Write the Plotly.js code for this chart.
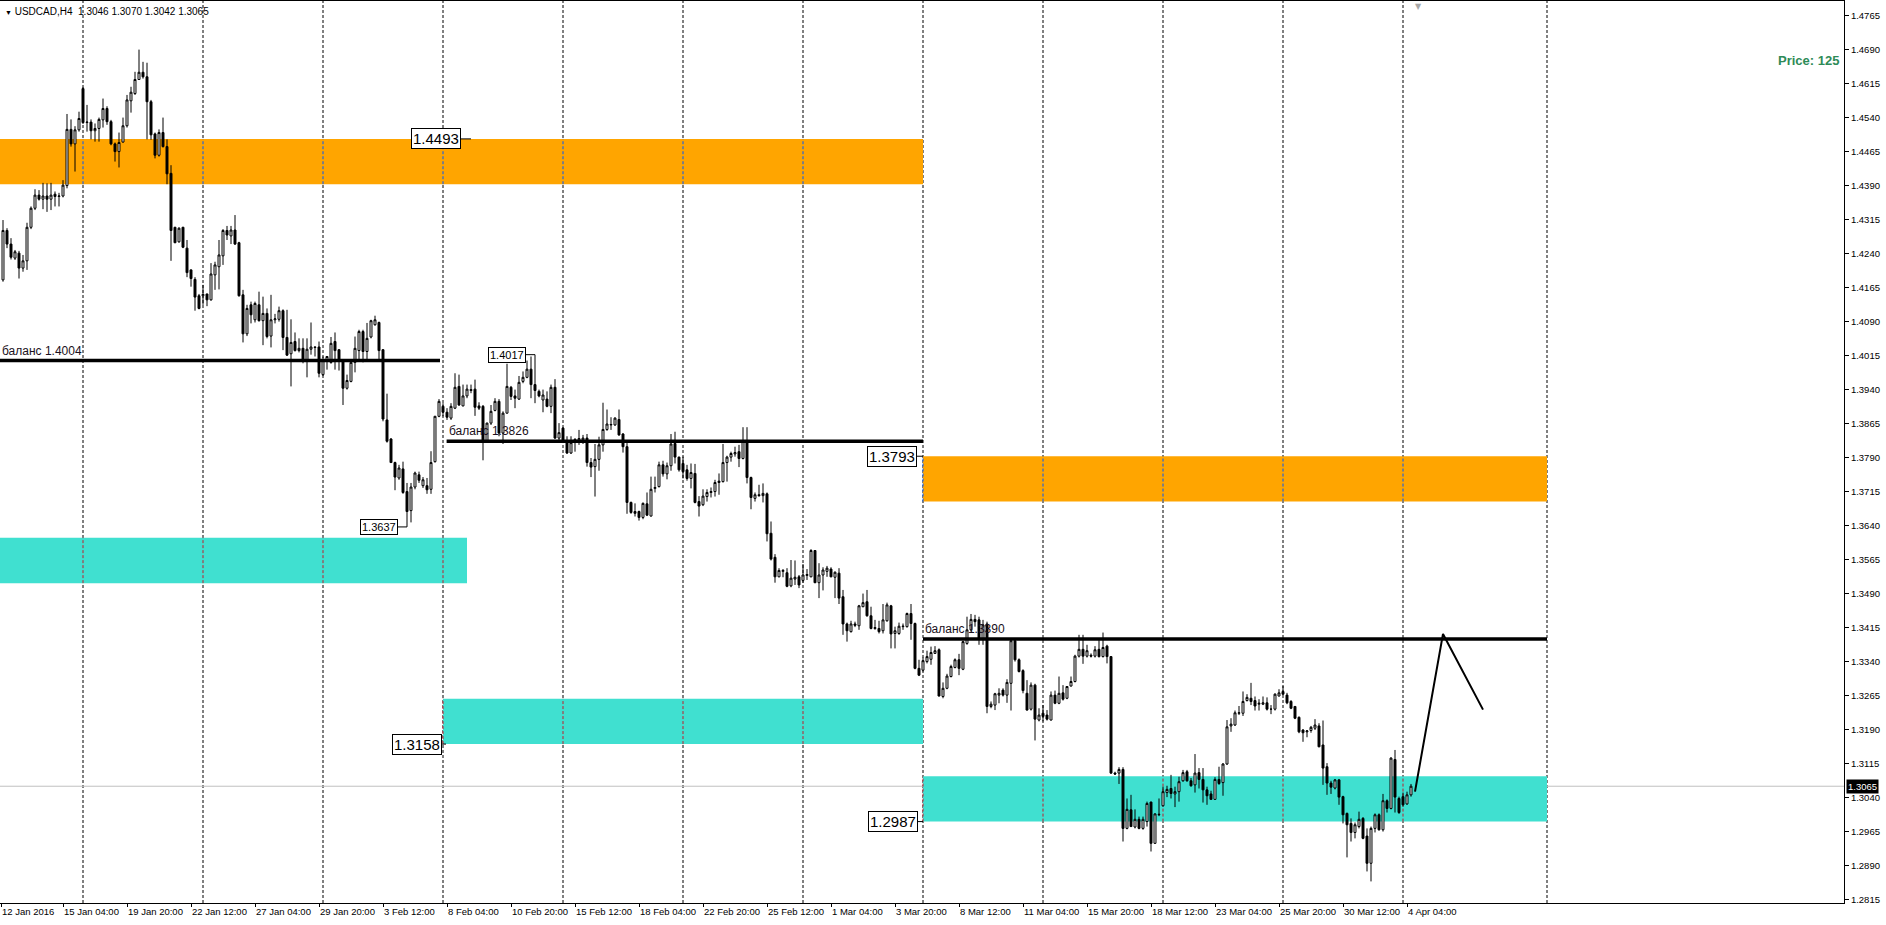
<!DOCTYPE html>
<html><head><meta charset="utf-8">
<script src="https://cdn.plot.ly/plotly-3.0.1.min.js"></script>
<style>html,body{margin:0;padding:0;background:#fff;overflow:hidden}#chart{width:1886px;height:925px}</style>
</head><body><div id="chart"></div>
<script>
// USDCAD H4 candles, one entry per bar (bar 0 = 12 Jan 2016 16:00)
const openP = [
1.4182,1.4291,1.4261,1.4230,1.4241,1.4208,1.4224,1.4298,1.4340,1.4369,
1.4360,1.4367,1.4360,1.4371,1.4366,1.4367,1.4390,1.4514,1.4482,1.4513,
1.4604,1.4529,1.4530,1.4511,1.4516,1.4535,1.4560,1.4531,1.4482,1.4465,
1.4486,1.4522,1.4577,1.4593,1.4624,1.4640,1.4630,1.4575,1.4504,1.4457,
1.4507,1.4476,1.4417,1.4298,1.4266,1.4298,1.4252,1.4204,1.4183,1.4147,
1.4147,1.4151,1.4138,1.4193,1.4211,1.4235,1.4291,1.4279,1.4292,1.4264,
1.4149,1.4063,1.4127,1.4094,1.4127,1.4092,1.4108,1.4058,1.4094,1.4095,
1.4114,1.4055,1.4019,1.4046,1.4026,1.4031,1.4002,1.4029,1.4034,1.4034,
1.3973,1.4002,1.4000,1.4046,1.4028,1.4002,1.3943,1.3958,1.4000,1.4026,
1.4068,1.4024,1.4056,1.4083,1.4088,1.4028,1.3873,1.3831,1.3779,1.3745,
1.3765,1.3715,1.3673,1.3725,1.3752,1.3728,1.3728,1.3720,1.3781,1.3881,
1.3903,1.3890,1.3877,1.3899,1.3947,1.3904,1.3926,1.3940,1.3941,1.3904,
1.3903,1.3826,1.3866,1.3894,1.3914,1.3844,1.3888,1.3945,1.3926,1.3919,
1.3958,1.3967,1.3985,1.3951,1.3936,1.3917,1.3919,1.3903,1.3945,1.3833,
1.3855,1.3826,1.3800,1.3825,1.3829,1.3829,1.3833,1.3779,1.3770,1.3786,
1.3818,1.3852,1.3862,1.3862,1.3874,1.3842,1.3814,1.3691,1.3671,1.3671,
1.3658,1.3688,1.3661,1.3722,1.3726,1.3774,1.3754,1.3772,1.3821,1.3791,
1.3777,1.3763,1.3744,1.3755,1.3693,1.3686,1.3704,1.3713,1.3715,1.3735,
1.3737,1.3779,1.3791,1.3798,1.3803,1.3788,1.3827,1.3746,1.3700,1.3708,
1.3706,1.3710,1.3623,1.3570,1.3527,1.3539,1.3536,1.3507,1.3522,1.3527,
1.3519,1.3530,1.3527,1.3585,1.3514,1.3531,1.3539,1.3544,1.3526,1.3535,
1.3483,1.3423,1.3406,1.3423,1.3419,1.3461,1.3472,1.3441,1.3413,1.3413,
1.3408,1.3430,1.3463,1.3402,1.3402,1.3417,1.3417,1.3446,1.3424,1.3325,
1.3321,1.3340,1.3345,1.3358,1.3366,1.3263,1.3281,1.3307,1.3327,1.3344,
1.3323,1.3380,1.3410,1.3433,1.3432,1.3391,1.3423,1.3241,1.3244,1.3266,
1.3277,1.3266,1.3292,1.3386,1.3344,1.3320,1.3270,1.3235,1.3288,1.3211,
1.3226,1.3222,1.3211,1.3266,1.3248,1.3271,1.3259,1.3286,1.3296,1.3352,
1.3367,1.3352,1.3354,1.3352,1.3367,1.3351,1.3374,1.3351,1.3094,1.3094,
1.3102,1.2972,1.3013,1.2975,1.2992,1.2972,1.2987,1.3030,1.2939,1.3002,
1.3022,1.3051,1.3060,1.3048,1.3053,1.3077,1.3097,1.3077,1.3068,1.3095,
1.3080,1.3057,1.3048,1.3036,1.3080,1.3073,1.3114,1.3198,1.3200,1.3226,
1.3226,1.3254,1.3259,1.3254,1.3246,1.3246,1.3249,1.3235,1.3235,1.3264,
1.3274,1.3266,1.3252,1.3241,1.3217,1.3189,1.3185,1.3188,1.3193,1.3198,
1.3156,1.3108,1.3072,1.3061,1.3079,1.3042,1.3005,1.2983,1.2963,1.2976,
1.2994,1.2955,1.2895,1.2972,1.3002,1.2969,1.3033,1.3016,1.3124,1.3038,
1.3042,1.3026,1.3046];
const highP = [
1.4314,1.4296,1.4274,1.4248,1.4246,1.4237,1.4308,1.4344,1.4382,1.4380,
1.4396,1.4395,1.4396,1.4377,1.4374,1.4402,1.4548,1.4536,1.4521,1.4553,
1.4607,1.4568,1.4536,1.4527,1.4540,1.4582,1.4565,1.4535,1.4485,1.4507,
1.4540,1.4590,1.4608,1.4641,1.4690,1.4663,1.4661,1.4579,1.4507,1.4514,
1.4540,1.4492,1.4435,1.4299,1.4298,1.4299,1.4270,1.4205,1.4188,1.4151,
1.4171,1.4151,1.4219,1.4222,1.4270,1.4294,1.4301,1.4301,1.4325,1.4266,
1.4160,1.4127,1.4134,1.4134,1.4156,1.4145,1.4119,1.4149,1.4107,1.4123,
1.4117,1.4116,1.4095,1.4066,1.4053,1.4053,1.4053,1.4088,1.4035,1.4046,
1.4013,1.4014,1.4056,1.4066,1.4029,1.4007,1.3973,1.4002,1.4057,1.4072,
1.4072,1.4087,1.4094,1.4103,1.4090,1.4029,1.3931,1.3833,1.3781,1.3774,
1.3781,1.3734,1.3734,1.3759,1.3759,1.3747,1.3745,1.3804,1.3882,1.3919,
1.3910,1.3899,1.3910,1.3976,1.3973,1.3951,1.3951,1.3951,1.3962,1.3912,
1.3906,1.3867,1.3906,1.3921,1.3919,1.3892,1.3997,1.3948,1.3940,1.3970,
1.3980,1.4004,1.4013,1.4017,1.3940,1.3940,1.3936,1.3951,1.3963,1.3866,
1.3857,1.3837,1.3837,1.3833,1.3851,1.3840,1.3842,1.3789,1.3820,1.3836,
1.3911,1.3896,1.3879,1.3879,1.3896,1.3844,1.3822,1.3693,1.3689,1.3673,
1.3691,1.3713,1.3748,1.3748,1.3781,1.3783,1.3779,1.3842,1.3847,1.3792,
1.3792,1.3774,1.3777,1.3776,1.3705,1.3720,1.3720,1.3724,1.3741,1.3755,
1.3820,1.3794,1.3803,1.3814,1.3818,1.3857,1.3857,1.3748,1.3713,1.3730,
1.3733,1.3713,1.3649,1.3577,1.3546,1.3544,1.3546,1.3564,1.3563,1.3531,
1.3555,1.3544,1.3588,1.3585,1.3557,1.3548,1.3551,1.3548,1.3539,1.3546,
1.3498,1.3426,1.3430,1.3428,1.3465,1.3490,1.3498,1.3461,1.3432,1.3430,
1.3467,1.3470,1.3465,1.3417,1.3426,1.3424,1.3448,1.3467,1.3426,1.3344,
1.3349,1.3364,1.3373,1.3374,1.3369,1.3294,1.3313,1.3333,1.3347,1.3357,
1.3386,1.3439,1.3445,1.3443,1.3439,1.3432,1.3428,1.3252,1.3271,1.3281,
1.3281,1.3301,1.3389,1.3389,1.3347,1.3323,1.3299,1.3294,1.3291,1.3237,
1.3244,1.3233,1.3274,1.3276,1.3307,1.3288,1.3286,1.3307,1.3355,1.3399,
1.3399,1.3377,1.3358,1.3374,1.3388,1.3404,1.3377,1.3352,1.3097,1.3107,
1.3107,1.3038,1.3046,1.3014,1.2998,1.2998,1.3031,1.3031,1.3005,1.3038,
1.3064,1.3066,1.3090,1.3064,1.3086,1.3101,1.3101,1.3083,1.3136,1.3105,
1.3105,1.3064,1.3055,1.3085,1.3108,1.3116,1.3211,1.3215,1.3232,1.3242,
1.3274,1.3268,1.3293,1.3263,1.3257,1.3263,1.3261,1.3244,1.3270,1.3279,
1.3286,1.3271,1.3255,1.3242,1.3219,1.3191,1.3189,1.3198,1.3213,1.3204,
1.3210,1.3116,1.3077,1.3081,1.3081,1.3044,1.3007,1.2994,1.2985,1.3009,
1.2997,1.2972,1.2976,1.3005,1.3005,1.3048,1.3036,1.3129,1.3145,1.3042,
1.3051,1.3053,1.3070];
const lowP = [
1.4178,1.4252,1.4227,1.4226,1.4185,1.4200,1.4204,1.4294,1.4336,1.4357,
1.4338,1.4332,1.4336,1.4344,1.4344,1.4364,1.4384,1.4476,1.4421,1.4509,
1.4526,1.4509,1.4492,1.4487,1.4487,1.4518,1.4524,1.4479,1.4443,1.4430,
1.4485,1.4518,1.4551,1.4590,1.4623,1.4626,1.4492,1.4491,1.4450,1.4454,
1.4474,1.4393,1.4224,1.4263,1.4264,1.4252,1.4188,1.4167,1.4114,1.4117,
1.4127,1.4124,1.4136,1.4160,1.4161,1.4215,1.4270,1.4261,1.4259,1.4145,
1.4044,1.4058,1.4086,1.4088,1.4090,1.4038,1.4053,1.4033,1.4086,1.4090,
1.4027,1.4014,1.3947,1.4024,1.4022,1.3998,1.3967,1.4017,1.4013,1.3967,
1.3970,1.3984,1.3997,1.3984,1.3982,1.3906,1.3940,1.3956,1.3978,1.4002,
1.4000,1.4002,1.4053,1.4081,1.4007,1.3870,1.3823,1.3778,1.3718,1.3741,
1.3710,1.3637,1.3647,1.3720,1.3734,1.3723,1.3710,1.3710,1.3779,1.3879,
1.3881,1.3873,1.3873,1.3897,1.3904,1.3903,1.3921,1.3932,1.3882,1.3895,
1.3784,1.3823,1.3862,1.3892,1.3837,1.3820,1.3887,1.3917,1.3899,1.3917,
1.3954,1.3965,1.3921,1.3910,1.3923,1.3890,1.3901,1.3888,1.3831,1.3826,
1.3822,1.3798,1.3798,1.3803,1.3818,1.3820,1.3770,1.3747,1.3704,1.3761,
1.3803,1.3849,1.3851,1.3860,1.3838,1.3801,1.3666,1.3666,1.3660,1.3651,
1.3654,1.3661,1.3660,1.3713,1.3724,1.3748,1.3742,1.3761,1.3777,1.3759,
1.3744,1.3739,1.3722,1.3689,1.3660,1.3683,1.3693,1.3702,1.3704,1.3708,
1.3735,1.3737,1.3781,1.3792,1.3769,1.3786,1.3733,1.3676,1.3693,1.3704,
1.3691,1.3605,1.3563,1.3514,1.3526,1.3526,1.3504,1.3504,1.3509,1.3502,
1.3514,1.3520,1.3526,1.3513,1.3480,1.3497,1.3527,1.3526,1.3480,1.3467,
1.3399,1.3384,1.3404,1.3416,1.3410,1.3460,1.3439,1.3411,1.3410,1.3402,
1.3402,1.3428,1.3369,1.3369,1.3399,1.3410,1.3415,1.3388,1.3323,1.3308,
1.3318,1.3336,1.3333,1.3357,1.3263,1.3259,1.3279,1.3305,1.3325,1.3310,
1.3321,1.3377,1.3406,1.3417,1.3377,1.3377,1.3226,1.3237,1.3233,1.3248,
1.3263,1.3249,1.3232,1.3340,1.3316,1.3270,1.3232,1.3232,1.3166,1.3208,
1.3208,1.3210,1.3210,1.3246,1.3246,1.3254,1.3257,1.3285,1.3294,1.3349,
1.3335,1.3349,1.3349,1.3349,1.3349,1.3349,1.3336,1.3092,1.3090,1.3070,
1.2943,1.2970,1.2975,1.2972,1.2970,1.2969,1.2976,1.2921,1.2938,1.2999,
1.3020,1.3041,1.3038,1.3019,1.3031,1.3075,1.3075,1.3064,1.3051,1.3060,
1.3029,1.3024,1.3035,1.3035,1.3068,1.3044,1.3112,1.3185,1.3198,1.3222,
1.3220,1.3252,1.3244,1.3232,1.3232,1.3244,1.3232,1.3224,1.3232,1.3263,
1.3266,1.3246,1.3235,1.3213,1.3182,1.3163,1.3173,1.3183,1.3189,1.3151,
1.3068,1.3046,1.3048,1.3058,1.3024,1.2983,1.2908,1.2943,1.2950,1.2972,
1.2948,1.2877,1.2855,1.2963,1.2967,1.2965,1.3007,1.3014,1.3007,1.3004,
1.3020,1.3024,1.3042];
const closeP = [
1.4291,1.4261,1.4232,1.4244,1.4208,1.4224,1.4298,1.4340,1.4369,1.4360,
1.4367,1.4360,1.4369,1.4366,1.4367,1.4391,1.4514,1.4482,1.4513,1.4538,
1.4529,1.4530,1.4511,1.4516,1.4536,1.4560,1.4531,1.4482,1.4465,1.4485,
1.4522,1.4579,1.4596,1.4624,1.4640,1.4630,1.4575,1.4502,1.4457,1.4507,
1.4476,1.4416,1.4291,1.4264,1.4296,1.4254,1.4198,1.4185,1.4144,1.4119,
1.4150,1.4138,1.4195,1.4215,1.4237,1.4291,1.4281,1.4292,1.4261,1.4147,
1.4063,1.4119,1.4105,1.4130,1.4092,1.4108,1.4057,1.4094,1.4096,1.4114,
1.4055,1.4016,1.4044,1.4026,1.4031,1.4002,1.4029,1.4034,1.4033,1.3976,
1.4004,1.4013,1.4042,1.4026,1.4002,1.3943,1.3960,1.4000,1.4031,1.4068,
1.4024,1.4053,1.4092,1.4094,1.4026,1.3875,1.3826,1.3779,1.3747,1.3767,
1.3713,1.3671,1.3725,1.3756,1.3740,1.3741,1.3719,1.3779,1.3881,1.3914,
1.3890,1.3879,1.3903,1.3945,1.3906,1.3926,1.3941,1.3938,1.3901,1.3899,
1.3826,1.3866,1.3892,1.3914,1.3844,1.3888,1.3947,1.3925,1.3921,1.3956,
1.3967,1.3985,1.3951,1.3938,1.3926,1.3928,1.3903,1.3945,1.3833,1.3845,
1.3826,1.3800,1.3823,1.3830,1.3832,1.3833,1.3779,1.3769,1.3786,1.3818,
1.3852,1.3864,1.3863,1.3877,1.3840,1.3814,1.3691,1.3669,1.3667,1.3658,
1.3689,1.3663,1.3720,1.3724,1.3774,1.3754,1.3772,1.3820,1.3791,1.3763,
1.3759,1.3744,1.3757,1.3691,1.3683,1.3705,1.3713,1.3715,1.3735,1.3738,
1.3779,1.3791,1.3799,1.3801,1.3788,1.3827,1.3746,1.3702,1.3708,1.3706,
1.3711,1.3622,1.3566,1.3527,1.3541,1.3541,1.3506,1.3524,1.3526,1.3509,
1.3531,1.3532,1.3585,1.3514,1.3531,1.3542,1.3546,1.3527,1.3537,1.3480,
1.3423,1.3408,1.3423,1.3420,1.3463,1.3470,1.3441,1.3413,1.3415,1.3406,
1.3432,1.3465,1.3401,1.3408,1.3418,1.3418,1.3446,1.3424,1.3325,1.3310,
1.3342,1.3351,1.3360,1.3364,1.3264,1.3281,1.3308,1.3329,1.3344,1.3325,
1.3384,1.3410,1.3433,1.3428,1.3391,1.3421,1.3241,1.3246,1.3269,1.3270,
1.3266,1.3294,1.3386,1.3344,1.3318,1.3276,1.3233,1.3288,1.3213,1.3222,
1.3219,1.3213,1.3266,1.3248,1.3270,1.3257,1.3285,1.3296,1.3352,1.3367,
1.3352,1.3364,1.3352,1.3366,1.3351,1.3371,1.3351,1.3094,1.3092,1.3102,
1.2972,1.3014,1.2976,1.2992,1.2972,1.2992,1.3027,1.2939,1.3004,1.3003,
1.3053,1.3058,1.3049,1.3053,1.3075,1.3095,1.3077,1.3066,1.3094,1.3080,
1.3057,1.3044,1.3036,1.3080,1.3071,1.3114,1.3196,1.3202,1.3227,1.3227,
1.3252,1.3261,1.3252,1.3242,1.3248,1.3249,1.3235,1.3235,1.3268,1.3271,
1.3268,1.3249,1.3237,1.3215,1.3185,1.3183,1.3187,1.3195,1.3200,1.3152,
1.3105,1.3072,1.3063,1.3079,1.3041,1.3002,1.2980,1.2963,1.2980,1.2992,
1.2950,1.2895,1.2972,1.3002,1.2969,1.3033,1.3016,1.3127,1.3041,1.3007,
1.3024,1.3046,1.3065];

// x axis labels (bar number -> time label)
const xTickBars = [-0.5,15,31,47,63,79,95,111,127,143,159,175,191,207,223,239,255,271,287,303,319,335,351];
const xTickText = ['12 Jan 2016','15 Jan 04:00','19 Jan 20:00','22 Jan 12:00','27 Jan 04:00','29 Jan 20:00','3 Feb 12:00','8 Feb 04:00','10 Feb 20:00','15 Feb 12:00','18 Feb 04:00','22 Feb 20:00','25 Feb 12:00','1 Mar 04:00','3 Mar 20:00','8 Mar 12:00','11 Mar 04:00','15 Mar 20:00','18 Mar 12:00','23 Mar 04:00','25 Mar 20:00','30 Mar 12:00','4 Apr 04:00'];
const yTicks = [1.2815,1.2890,1.2965,1.3040,1.3115,1.3190,1.3265,1.3340,1.3415,1.3490,1.3565,1.3640,1.3715,1.3790,1.3865,1.3940,1.4015,1.4090,1.4165,1.4240,1.4315,1.4390,1.4465,1.4540,1.4615,1.4690,1.4765];

// weekly separators (Monday 00:00 bars) and the extra vertical line
const separatorBars = [20,50,80,110,140,170,200,230,260,290,320,350];
const extraLineBar = [386];

// zones
const zoneTop    = [1.4493, 1.3613, 1.3258, 1.3793, 1.3087];
const zoneBottom = [1.4393, 1.3513, 1.3158, 1.3693, 1.2987];
const zoneStart  = [-5, -5, 110, 230, 230];
const zoneEnd    = [230, 116, 230, 386, 386];
const zoneColor  = ['#FFA500', '#40E0D0', '#40E0D0', '#FFA500', '#40E0D0'];
const zoneDashColor = ['#005AFF', '#BF1F2F', '#BF1F2F', '#005AFF', '#BF1F2F'];

// balance levels
const balanceLevel = [1.4004, 1.3826, 1.3390];
const balanceStart = [-5, 110.9, 230];
const balanceEnd   = [109.25, 230, 386];
const balanceText  = ['баланс 1.4004', 'баланс 1.3826', 'баланс 1.3390'];
const balanceTextX = [-0.75, 110.9, 230];

// price labels (boxed)
const labelText  = ['1.4493', '1.3793', '1.3158', '1.2987', '1.3637', '1.4017'];
const labelPrice = [1.4493, 1.3793, 1.3158, 1.2987, 1.3637, 1.4017];
const labelRight = [114.5, 228.5, 109.75, 228.75, 98.75, 130.75];
const labelLineTo = [117, 230, 110.75, 230, 101, 133];
const labelSize  = [15, 15, 15, 15, 11, 11];

// forecast path
const forecastX = [353, 360, 370];
const forecastY = [1.3053, 1.3401, 1.3234];

const lastPrice = 1.3065;
const headerText = '<span style="font-size:7px">▼</span> USDCAD,H4\u00a0\u00a01.3046 1.3070 1.3042 1.3065';

const bars = openP.map((_, i) => i);

const shapes = [];
for (let i = 0; i < zoneTop.length; i++) {
  shapes.push({type:'rect', xref:'x', yref:'y', x0:zoneStart[i], x1:zoneEnd[i], y0:zoneBottom[i], y1:zoneTop[i],
    fillcolor:zoneColor[i], line:{width:0}, layer:'below'});
}
const vLines = separatorBars.concat(extraLineBar);
vLines.forEach(b => {
  shapes.push({type:'line', xref:'x', yref:'paper', x0:b, x1:b, y0:0, y1:1,
    line:{color:'#000', width:1, dash:'3px,2px'}, layer:'below'});
  for (let i = 0; i < zoneTop.length; i++) {
    if (b >= zoneStart[i] && b < zoneEnd[i]) {
      shapes.push({type:'line', xref:'x', yref:'y', x0:b, x1:b, y0:zoneBottom[i], y1:zoneTop[i],
        line:{color:zoneDashColor[i], width:1, dash:'3px,2px'}, layer:'below'});
    }
  }
});
shapes.push({type:'line', xref:'paper', yref:'y', x0:0, x1:1, y0:lastPrice, y1:lastPrice,
  line:{color:'#C0C0C0', width:1}, layer:'below'});
for (let i = 0; i < balanceLevel.length; i++) {
  shapes.push({type:'line', xref:'x', yref:'y', x0:balanceStart[i], x1:balanceEnd[i], y0:balanceLevel[i], y1:balanceLevel[i],
    line:{color:'#000', width:3.5}, layer:'above'});
}
for (let i = 0; i < labelText.length; i++) {
  shapes.push({type:'line', xref:'x', yref:'y', x0:labelRight[i], x1:labelLineTo[i], y0:labelPrice[i], y1:labelPrice[i],
    line:{color:'#000', width:1}, layer:'above'});
}

const annotations = [];
for (let i = 0; i < balanceLevel.length; i++) {
  annotations.push({xref:'x', yref:'y', x:balanceTextX[i], y:balanceLevel[i], xanchor:'left', yanchor:'bottom',
    yshift:1, showarrow:false, text:balanceText[i], font:{family:'Liberation Sans, Arial, sans-serif', size:12, color:'#1a1020'}});
}
for (let i = 0; i < labelText.length; i++) {
  annotations.push({xref:'x', yref:'y', x:labelRight[i], y:labelPrice[i], xanchor:'right', yanchor:'middle',
    showarrow:false, text:labelText[i], bgcolor:'#fff', bordercolor:'#000', borderwidth:1, borderpad:1,
    font:{family:'Liberation Sans, Arial, sans-serif', size:labelSize[i], color:'#000'}});
}
annotations.push({xref:'paper', yref:'paper', x:0, y:1, xanchor:'left', yanchor:'top', xshift:3, yshift:-3,
  showarrow:false, text:headerText, font:{family:'Liberation Sans, DejaVu Sans, sans-serif', size:10, color:'#000'}});
annotations.push({xref:'paper', yref:'paper', x:1, y:0.9335, xanchor:'right', yanchor:'middle', xshift:-3,
  showarrow:false, text:'<b>Price: 125</b>', font:{family:'Liberation Sans, Arial, sans-serif', size:13, color:'#2E8B57'}});
annotations.push({xref:'paper', yref:'y', x:1, y:lastPrice, xanchor:'left', yanchor:'middle', xshift:2,
  showarrow:false, text:lastPrice.toFixed(4), bgcolor:'#000', borderpad:1,
  font:{family:'Liberation Sans, Arial, sans-serif', size:9.5, color:'#fff'}});
annotations.push({xref:'paper', yref:'paper', x:0.7695, y:1, xanchor:'center', yanchor:'top', yshift:1,
  showarrow:false, text:'▼', font:{family:'DejaVu Sans, sans-serif', size:8, color:'#A8A8A8'}});

const traces = [
  {type:'candlestick', x:bars, open:openP, high:highP, low:lowP, close:closeP,
   increasing:{line:{color:'#000', width:1}, fillcolor:'#FFFFFF'},
   decreasing:{line:{color:'#000', width:1}, fillcolor:'#000000'},
   whiskerwidth:0, hoverinfo:'skip', showlegend:false},
  {type:'scatter', mode:'lines', x:forecastX, y:forecastY, line:{color:'#000', width:2},
   hoverinfo:'skip', showlegend:false}
];

const layout = {
  width:1886, height:925, autosize:false,
  margin:{l:0, r:42, t:1, b:22, pad:0},
  paper_bgcolor:'#FFFFFF', plot_bgcolor:'#FFFFFF',
  showlegend:false,
  font:{family:'Liberation Sans, Arial, sans-serif', size:10, color:'#000'},
  boxgap:0.3,
  xaxis:{range:[-0.75, 460.25], showgrid:false, zeroline:false, showline:true, linecolor:'#000', linewidth:1, mirror:true,
    ticks:'outside', ticklen:3, tickcolor:'#000', tickvals:xTickBars, ticktext:xTickText, tickangle:0,
    ticklabelposition:'outside right', tickfont:{size:9.5, color:'#000'}, rangeslider:{visible:false}, fixedrange:true},
  yaxis:{range:[1.28074, 1.47972], side:'right', showgrid:false, zeroline:false, showline:true, linecolor:'#000', linewidth:1, mirror:true,
    ticks:'outside', ticklen:4, tickcolor:'#000', tickvals:yTicks, tickformat:'.4f', tickfont:{size:9.5, color:'#000'}, fixedrange:true},
  shapes:shapes,
  annotations:annotations
};

Plotly.newPlot('chart', traces, layout, {displayModeBar:false, staticPlot:true});
</script></body></html>
